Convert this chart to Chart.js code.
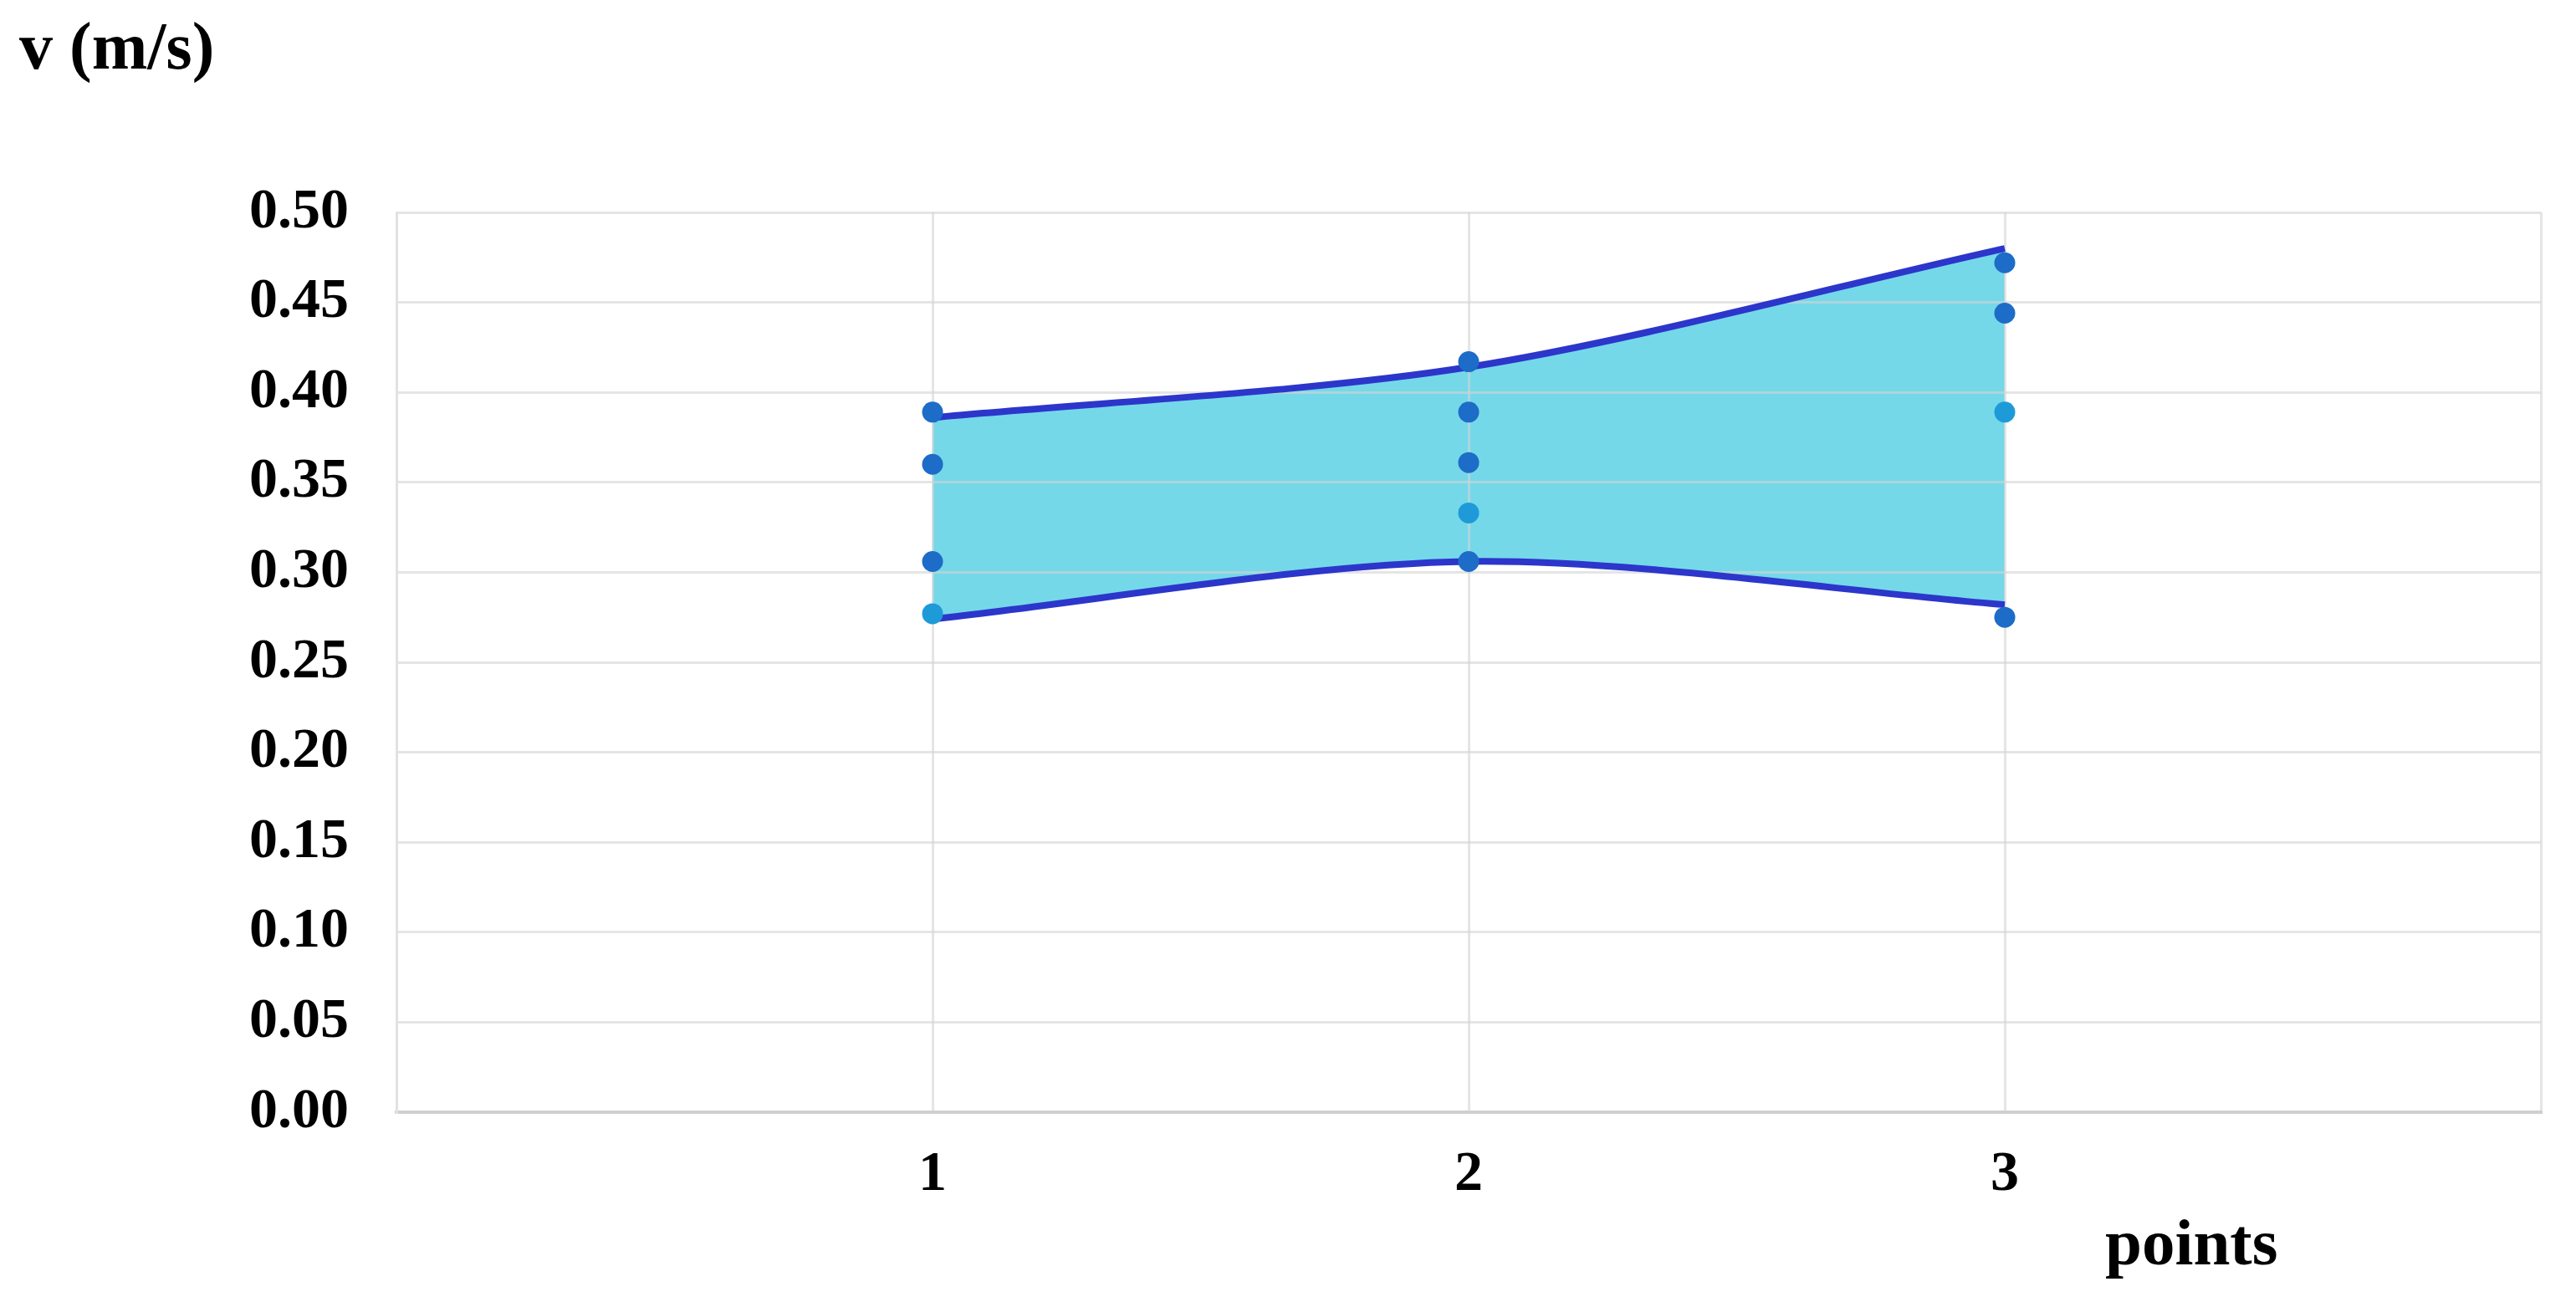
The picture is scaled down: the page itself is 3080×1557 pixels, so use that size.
<!DOCTYPE html>
<html>
<head>
<meta charset="utf-8">
<script src="https://cdn.jsdelivr.net/npm/chart.js@4.4.1/dist/chart.umd.min.js"></script>
<style>
  html, body { margin: 0; padding: 0; background: #ffffff; }
  #wrap { width: 3080px; height: 1557px; position: relative; }
  canvas { display: block; }
</style>
</head>
<body>
<div id="wrap"><canvas id="c" width="3080" height="1557"></canvas></div>
<script>
// ---- data ----
const categories = [1, 2, 3];
const xTickLabels = ['1', '2', '3'];
const yTickLabels = ['0.00', '0.05', '0.10', '0.15', '0.20', '0.25', '0.30', '0.35', '0.40', '0.45', '0.50'];
const measuredAt1 = [0.389, 0.360, 0.306, 0.277];
const measuredAt2 = [0.417, 0.389, 0.361, 0.333, 0.306];
const measuredAt3 = [0.472, 0.444, 0.389, 0.275];
const upperEnvelope = [0.386, 0.414, 0.480];
const lowerEnvelope = [0.274, 0.306, 0.282];
const yAxisTitle = 'v (m/s)';
const xAxisTitle = 'points';

// ---- styles ----
const DARK = '#1D6CC8';
const LIGHT = '#1E9AD9';
const LINE = '#2C36CB';
const FILL = 'rgb(116,216,233)';
const GRID = 'rgba(212,212,212,0.6)';
const FONT = "'Liberation Serif', 'Times New Roman', serif";

const lightIndex = [3, 3, 2];
const measured = [measuredAt1, measuredAt2, measuredAt3];

function pts(xs, ys) { return ys.map((y, i) => ({ x: xs[i], y: y })); }

const dotSets = measured.map((vals, k) => ({
  label: 'point ' + categories[k],
  data: vals.map(v => ({ x: categories[k], y: v })),
  showLine: false,
  pointRadius: 12.5,
  pointHoverRadius: 12.5,
  pointBorderWidth: 0,
  pointBackgroundColor: vals.map((v, i) => i === lightIndex[k] ? LIGHT : DARK),
  order: 0
}));

const titlesPlugin = {
  id: 'titles',
  afterDraw(chart) {
    const ctx = chart.ctx;
    ctx.save();
    ctx.fillStyle = '#000000';
    ctx.font = 'bold 80px ' + FONT;
    ctx.textBaseline = 'alphabetic';
    ctx.textAlign = 'left';
    ctx.fillText(yAxisTitle, 23, 82);
    ctx.font = 'bold 79px ' + FONT;
    ctx.fillText(xAxisTitle, 2517, 1512);
    ctx.restore();
  }
};

new Chart(document.getElementById('c'), {
  type: 'scatter',
  data: {
    datasets: [
      {
        label: 'upper',
        data: pts(categories, upperEnvelope),
        showLine: true,
        borderColor: LINE,
        borderWidth: 8,
        pointRadius: 0,
        tension: 0.3,
        fill: '+1',
        backgroundColor: FILL,
        order: 1
      },
      {
        label: 'lower',
        data: pts(categories, lowerEnvelope),
        showLine: true,
        borderColor: LINE,
        borderWidth: 8,
        pointRadius: 0,
        tension: 0.3,
        fill: false,
        order: 1
      },
      ...dotSets
    ]
  },
  options: {
    responsive: false,
    animation: false,
    events: [],
    layout: { padding: { top: 254, right: 42, left: 0, bottom: 0 } },
    plugins: {
      legend: { display: false },
      title: { display: false },
      tooltip: { enabled: false },
      filler: { drawTime: 'beforeDraw' }
    },
    scales: {
      x: {
        type: 'linear',
        min: 0,
        max: 4,
        afterFit(scale) { scale.height = 1557 - 1330; },
        ticks: {
          stepSize: 1,
          padding: 35,
          color: '#000000',
          font: { family: FONT, size: 68, weight: 'bold' },
          callback(value) {
            const i = categories.indexOf(value);
            return i >= 0 ? xTickLabels[i] : '';
          }
        },
        grid: { color: GRID, lineWidth: 3, drawTicks: false },
        border: { color: '#D0D0D0', width: 4 }
      },
      y: {
        type: 'linear',
        min: 0,
        max: 0.5,
        afterFit(scale) { scale.width = 474; },
        afterBuildTicks(scale) {
          scale.ticks = yTickLabels.map(t => ({ value: parseFloat(t) }));
        },
        ticks: {
          padding: 57,
          color: '#000000',
          font: { family: FONT, size: 68, weight: 'bold' },
          callback(value, index) { return yTickLabels[index]; }
        },
        grid: { color: GRID, lineWidth: 3, drawTicks: false },
        border: { color: '#E2E2E2', width: 3 }
      }
    }
  },
  plugins: [titlesPlugin]
});
</script>
</body>
</html>
